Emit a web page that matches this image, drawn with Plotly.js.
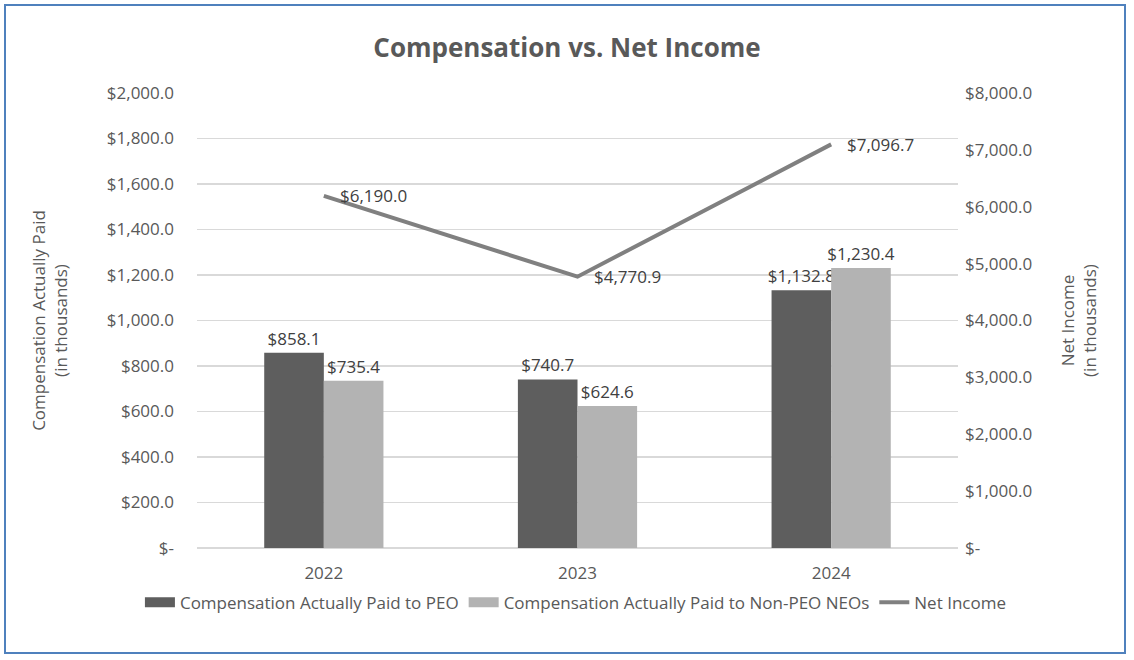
<!DOCTYPE html>
<html>
<head>
<meta charset="utf-8">
<script src="https://cdn.plot.ly/plotly-3.0.1.min.js"></script>
<style>
  html, body { margin: 0; padding: 0; background: #fff; }
  #chart { width: 1134px; height: 660px; }
  #frame { position: absolute; left: 4px; top: 4px; width: 1122px; height: 650px;
           border: 2px solid #4F81BD; box-sizing: border-box; pointer-events: none; }
</style>
</head>
<body>
<div id="chart"></div>
<div id="frame"></div>
<script>
const years = ['2022', '2023', '2024'];
const capPEO = [858.1, 740.7, 1132.8];
const capNonPEO = [735.4, 624.6, 1230.4];
const netIncome = [6190.0, 4770.9, 7096.7];
const capPEOLabels = ['$858.1', '$740.7', '$1,132.8'];
const capNonPEOLabels = ['$735.4', '$624.6', '$1,230.4'];
const netIncomeLabels = ['$6,190.0', '$4,770.9', '$7,096.7'];
const leftTickVals = [0, 200, 400, 600, 800, 1000, 1200, 1400, 1600, 1800, 2000];
const leftTickText = ['$-', '$200.0', '$400.0', '$600.0', '$800.0', '$1,000.0', '$1,200.0', '$1,400.0', '$1,600.0', '$1,800.0', '$2,000.0'];
const rightTickVals = [0, 1000, 2000, 3000, 4000, 5000, 6000, 7000, 8000];
const rightTickText = ['$-', '$1,000.0', '$2,000.0', '$3,000.0', '$4,000.0', '$5,000.0', '$6,000.0', '$7,000.0', '$8,000.0'];

const FONT = '"Open Sans", Lato, sans-serif';
const GREY = '#595959';
const FS = 17;
const labelFont = () => ({ family: FONT, size: FS, color: '#404040' });

const traces = [
  { type: 'bar', name: 'Compensation Actually Paid to PEO', x: years, y: capPEO,
    marker: { color: '#5E5E5E' }, text: capPEOLabels, textposition: 'outside', constraintext: 'none',
    textfont: labelFont(), cliponaxis: false, hoverinfo: 'none', showlegend: false },
  { type: 'bar', name: 'Compensation Actually Paid to Non-PEO NEOs', x: years, y: capNonPEO,
    marker: { color: '#B3B3B3' }, text: capNonPEOLabels, textposition: 'outside', constraintext: 'none',
    textfont: labelFont(), cliponaxis: false, hoverinfo: 'none', showlegend: false },
  // legend-only keys drawn as wide blocks, like the reference legend
  { type: 'scatter', mode: 'lines', name: 'Compensation Actually Paid to PEO', x: [null], y: [null],
    line: { color: '#5E5E5E', width: 12 }, hoverinfo: 'none', showlegend: true },
  { type: 'scatter', mode: 'lines', name: 'Compensation Actually Paid to Non-PEO NEOs', x: [null], y: [null],
    line: { color: '#B3B3B3', width: 12 }, hoverinfo: 'none', showlegend: true },
  { type: 'scatter', mode: 'lines', name: 'Net Income', x: years, y: netIncome, yaxis: 'y2',
    line: { color: '#808080', width: 4 }, cliponaxis: false, hoverinfo: 'none' }
];

// label each Net Income point (x given as the category index)
const annotations = netIncome.map((v, i) => ({
  x: i, y: v, xref: 'x', yref: 'y2', text: netIncomeLabels[i],
  showarrow: false, xanchor: 'left', yanchor: 'middle', xshift: 14,
  font: labelFont()
}));

const layout = {
  width: 1134, height: 660,
  margin: { l: 197, r: 176, t: 93, b: 112 },
  paper_bgcolor: '#ffffff', plot_bgcolor: '#ffffff',
  font: { family: FONT, size: FS, color: GREY },
  title: { text: '<b>Compensation vs. Net Income</b>', x: 0.5, xref: 'container',
           y: 1 - 48 / 660, yref: 'container', yanchor: 'middle',
           font: { family: FONT, size: 26, color: GREY } },
  barmode: 'group', bargap: 0.53, bargroupgap: 0,
  showlegend: true,
  legend: { orientation: 'h', xref: 'paper', x: -0.075, xanchor: 'left',
            yref: 'paper', y: -0.12, yanchor: 'middle',
            bgcolor: 'rgba(0,0,0,0)', itemwidth: 30,
            font: { family: FONT, size: FS, color: GREY }, traceorder: 'normal' },
  annotations: annotations,
  xaxis: { type: 'category', range: [-0.5, 2.5], showgrid: false, zeroline: false,
           showline: false, ticks: '', ticklabelstandoff: 13,
           tickfont: { family: FONT, size: FS, color: GREY } },
  yaxis: { range: [0, 2000], tickvals: leftTickVals, ticktext: leftTickText,
           showgrid: true, gridcolor: '#D9D9D9', gridwidth: 1.5, zeroline: true, zerolinecolor: '#D9D9D9',
           zerolinewidth: 1.5, showline: false, ticks: '', ticklabelstandoff: 22,
           tickfont: { family: FONT, size: FS, color: GREY } ,
           title: { text: 'Compensation Actually Paid<br>(in thousands)', standoff: 34,
                    font: { family: FONT, size: FS, color: GREY } } },
  yaxis2: { range: [0, 8000], overlaying: 'y', side: 'right', tickvals: rightTickVals, ticktext: rightTickText,
            showgrid: false, zeroline: false, showline: false, ticks: '', ticklabelstandoff: 6,
            tickfont: { family: FONT, size: FS, color: GREY },
            title: { text: 'Net Income<br>(in thousands)', standoff: 30,
                     font: { family: FONT, size: FS, color: GREY } } }
};

Plotly.newPlot('chart', traces, layout, { staticPlot: true, displayModeBar: false });
</script>
</body>
</html>
